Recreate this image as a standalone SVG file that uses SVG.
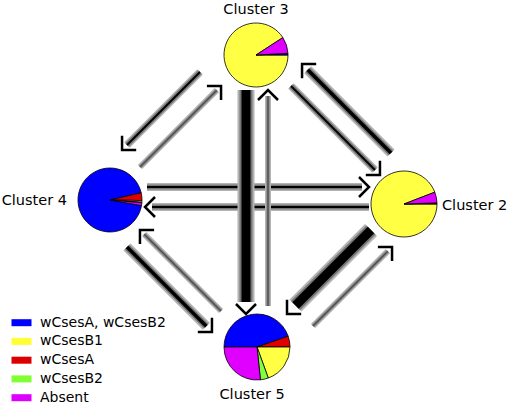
<svg xmlns="http://www.w3.org/2000/svg" width="510" height="405" viewBox="0 0 510 405">
<style>
text{font-family:"DejaVu Sans","Liberation Sans",sans-serif;font-size:14.5px;fill:#000}
.lg{font-size:14px}
.pie path{stroke:#000;stroke-width:0.8;stroke-linejoin:round}
.b{fill:#0000ff}.y{fill:#ffff44}.r{fill:#e00000}.g{fill:#80ff40}.m{fill:#e000ff}
.conn line{fill:none;stroke-linecap:butt}
.o{stroke:#b4b4b4}.d{stroke:#767676}.k{stroke:#000}
.w1 .o{stroke-width:6}.w1 .d{stroke-width:3.5;stroke:#8a8a8a}.w1 .k{stroke-width:1.5;stroke:#505050}
.w2 .o{stroke-width:8}.w2 .d{stroke-width:5}.w2 .k{stroke-width:1.8}
.w3 .o{stroke-width:10}.w3 .d{stroke-width:6.5}.w3 .k{stroke-width:3.5}
.w4 .o{stroke-width:17}.w4 .d{stroke-width:13}.w4 .k{stroke-width:9}
.ah{fill:none;stroke:#000;stroke-width:2.5}
</style>
<defs>
<marker id="a1" markerUnits="userSpaceOnUse" markerWidth="40" markerHeight="40" viewBox="-20 -20 40 40" refX="-6" refY="0" orient="auto" overflow="visible"><path class="ah" d="M-10,-10 L0,0 L-10,10"/></marker>
<marker id="a2" markerUnits="userSpaceOnUse" markerWidth="40" markerHeight="40" viewBox="-20 -20 40 40" refX="-7" refY="0" orient="auto" overflow="visible"><path class="ah" d="M-10,-10 L0,0 L-10,10"/></marker>
<marker id="a3" markerUnits="userSpaceOnUse" markerWidth="40" markerHeight="40" viewBox="-20 -20 40 40" refX="-8" refY="0" orient="auto" overflow="visible"><path class="ah" d="M-10,-10 L0,0 L-10,10"/></marker>
<marker id="a4" markerUnits="userSpaceOnUse" markerWidth="40" markerHeight="40" viewBox="-20 -20 40 40" refX="-12" refY="0" orient="auto" overflow="visible"><path class="ah" d="M-10,-10 L0,0 L-10,10"/></marker>
</defs>
<rect width="510" height="405" fill="#fff"/>

<g id="cluster3" class="pie">
<path class="y" d="M256,55 L282.84,37.57 A32,32 0 1 0 288,55 Z"/>
<path class="b" d="M256,55 L288,55 A32,32 0 0 0 287.96,53.33 Z"/>
<path class="m" d="M256,55 L287.96,53.33 A32,32 0 0 0 282.84,37.57 Z"/>
<text x="256" y="14" text-anchor="middle">Cluster 3</text>
</g>
<g id="cluster2" class="pie">
<path class="y" d="M404,204 L434.81,192.17 A33,33 0 1 0 437,204 Z"/>
<path class="r" d="M404,204 L437,204 A33,33 0 0 0 436.98,202.85 Z"/>
<path class="m" d="M404,204 L436.98,202.85 A33,33 0 0 0 434.81,192.17 Z"/>
<text x="442" y="210">Cluster 2</text>
</g>
<g id="cluster4" class="pie">
<path class="b" d="M110,200 L141.18,192.8 A32,32 0 1 0 141.51,205.56 Z"/>
<path class="r" d="M110,200 L142,200.56 A32,32 0 0 0 141.18,192.8 Z"/>
<path class="y" d="M110,200 L141.92,202.23 A32,32 0 0 0 142,200.56 Z"/>
<path class="g" d="M110,200 L141.88,202.79 A32,32 0 0 0 141.92,202.23 Z"/>
<path class="m" d="M110,200 L141.51,205.56 A32,32 0 0 0 141.88,202.79 Z"/>
<text x="67" y="205" text-anchor="end">Cluster 4</text>
</g>
<g id="cluster5" class="pie">
<path class="b" d="M257,347 L288.2,336.26 A33,33 0 0 0 224,347 Z"/>
<path class="r" d="M257,347 L290,347 A33,33 0 0 0 288.2,336.26 Z"/>
<path class="y" d="M257,347 L290,347 A33,33 0 0 1 268.29,378.01 Z"/>
<path class="g" d="M257,347 L268.29,378.01 A33,33 0 0 1 260.45,379.82 Z"/>
<path class="m" d="M257,347 L260.45,379.82 A33,33 0 0 1 224,347 Z"/>
<text x="219.5" y="399">Cluster 5</text>
</g>

<g id="connectors" class="conn">
<g class="w2"><line class="o" x1="200" y1="72" x2="127" y2="145"/><line class="d" x1="200" y1="72" x2="127" y2="145"/><line class="k" x1="200" y1="72" x2="127" y2="145" marker-end="url(#a2)"/></g>
<g class="w1"><line class="o" x1="140" y1="167" x2="216.8" y2="90.2"/><line class="d" x1="140" y1="167" x2="216.8" y2="90.2"/><line class="k" x1="140" y1="167" x2="216.8" y2="90.2" marker-end="url(#a1)"/></g>
<g class="w3"><line class="o" x1="391" y1="153" x2="307.7" y2="69.7"/><line class="d" x1="391" y1="153" x2="307.7" y2="69.7"/><line class="k" x1="391" y1="153" x2="307.7" y2="69.7" marker-end="url(#a3)"/></g>
<g class="w2"><line class="o" x1="291" y1="86" x2="375" y2="170"/><line class="d" x1="291" y1="86" x2="375" y2="170"/><line class="k" x1="291" y1="86" x2="375" y2="170" marker-end="url(#a2)"/></g>
<g class="w4"><line class="o" x1="371" y1="230" x2="295.5" y2="305.5"/><line class="d" x1="371" y1="230" x2="295.5" y2="305.5"/><line class="k" x1="371" y1="230" x2="295.5" y2="305.5" marker-end="url(#a4)"/></g>
<g class="w1"><line class="o" x1="313" y1="326" x2="387.8" y2="251.2"/><line class="d" x1="313" y1="326" x2="387.8" y2="251.2"/><line class="k" x1="313" y1="326" x2="387.8" y2="251.2" marker-end="url(#a1)"/></g>
<g class="w3"><line class="o" x1="127" y1="247" x2="206.3" y2="326.3"/><line class="d" x1="127" y1="247" x2="206.3" y2="326.3"/><line class="k" x1="127" y1="247" x2="206.3" y2="326.3" marker-end="url(#a3)"/></g>
<g class="w1"><line class="o" x1="221" y1="311" x2="144.2" y2="234.2"/><line class="d" x1="221" y1="311" x2="144.2" y2="234.2"/><line class="k" x1="221" y1="311" x2="144.2" y2="234.2" marker-end="url(#a1)"/></g>
<g class="w2"><line class="o" x1="147" y1="187" x2="362" y2="187"/><line class="d" x1="147" y1="187" x2="362" y2="187"/><line class="k" x1="147" y1="187" x2="362" y2="187" marker-end="url(#a2)"/></g>
<g class="w2"><line class="o" x1="369" y1="207" x2="152" y2="207"/><line class="d" x1="369" y1="207" x2="152" y2="207"/><line class="k" x1="369" y1="207" x2="152" y2="207" marker-end="url(#a2)"/></g>
<g class="w4"><line class="o" x1="246" y1="90" x2="246" y2="302"/><line class="d" x1="246" y1="90" x2="246" y2="302"/><line class="k" x1="246" y1="90" x2="246" y2="302" marker-end="url(#a4)"/></g>
<g class="w1"><line class="o" x1="268" y1="306" x2="268" y2="96"/><line class="d" x1="268" y1="306" x2="268" y2="96"/><line class="k" x1="268" y1="306" x2="268" y2="96" marker-end="url(#a1)"/></g>
</g>

<g id="legend">
<rect class="b" x="11.5" y="319.2" width="20" height="7"/>
<rect x="11.5" y="337.9" width="20" height="7" fill="#ffff33"/>
<rect x="11.5" y="356.7" width="20" height="7" fill="#dd0000"/>
<rect x="11.5" y="375.4" width="20" height="7" fill="#80ff33"/>
<rect x="11.5" y="394.2" width="20" height="7" fill="#dd00ff"/>
<text class="lg" x="40" y="326.7">wCsesA, wCsesB2</text>
<text class="lg" x="40" y="345.4">wCsesB1</text>
<text class="lg" x="40" y="364.2">wCsesA</text>
<text class="lg" x="40" y="382.9">wCsesB2</text>
<text class="lg" x="40" y="401.7">Absent</text>
</g>
</svg>
